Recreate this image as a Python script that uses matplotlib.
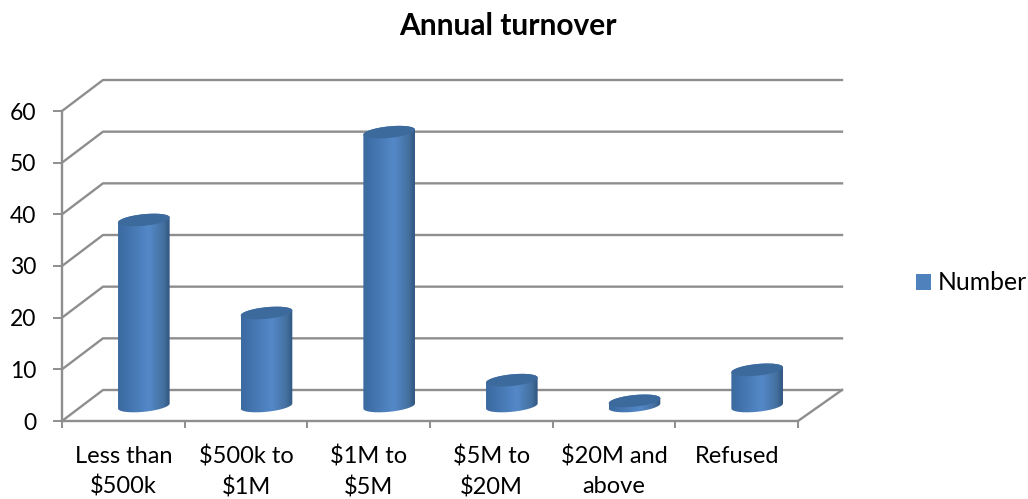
import numpy as np
import matplotlib
matplotlib.use("Agg")
import matplotlib.pyplot as plt
from matplotlib.colors import LinearSegmentedColormap
from matplotlib.patches import Patch, Polygon

categories = ["Less than\n$500k", "$500k to\n$1M", "$1M to\n$5M", "$5M to\n$20M", "$20M and\nabove", "Refused"]
values = [36, 18, 53, 5, 1, 7]
yticks = [0, 10, 20, 30, 40, 50, 60]

GRID = "#8e8e8e"
FONT = "Lato"
plt.rcParams["font.family"] = [FONT, "DejaVu Sans"]

W, H = 1028, 499
fig = plt.figure(figsize=(W / 100, H / 100), dpi=100)
ax = fig.add_axes([62 / W, (H - 421) / H, 736 / W, 310 / H])
ax.set_xlim(0, 6)
ax.set_ylim(0, 60)

# px to data units, the fake 3d depth is done by hand
sx = 6 / 736
sy = 60 / 310
dx = 41 * sx
dx_right = 44 * sx
dy = 31 * sy

# back wall and left wall lines
for v in yticks:
    ax.plot([0, dx, 6 + dx_right], [v, v + dy, v + dy], color=GRID, lw=1.7, clip_on=False, zorder=1)
ax.plot([6, 6 + dx_right], [0, dy], color=GRID, lw=1.7, clip_on=False, zorder=1)

# cylinders
cmap = LinearSegmentedColormap.from_list(
    "cyl", [(0, "#3a6a9f"), (0.2, "#4373ad"), (0.6, "#5488c8"), (0.88, "#44709f"), (1, "#2f5580")])
grad = np.linspace(0, 1, 256).reshape(1, -1)
a = 25.8 * sx
b = 5.8 * sy
k = 2.5 * sy
t_low = np.linspace(np.pi, 2 * np.pi, 60)
t_up = np.linspace(0, np.pi, 60)
t_all = np.linspace(0, 2 * np.pi, 120)
for i, v in enumerate(values):
    cx = i + 0.5 + dx / 2
    base = dy / 2 - 0.5 * sy
    top = base + v
    low = np.c_[cx + a * np.cos(t_low), base + b * np.sin(t_low) + k * np.cos(t_low)]
    up = np.c_[cx + a * np.cos(t_up), top + b * np.sin(t_up) + k * np.cos(t_up)]
    body = Polygon(np.r_[low, up], closed=True, transform=ax.transData, fc="none", ec="none")
    ax.add_patch(body)
    im = ax.imshow(grad, cmap=cmap, extent=[cx - a, cx + a, base - 2 * b, top + 2 * b],
                   aspect="auto", zorder=3)
    im.set_clip_path(body)
    lid = np.c_[cx + a * np.cos(t_all), top + b * np.sin(t_all) + k * np.cos(t_all)]
    ax.add_patch(Polygon(lid, closed=True, fc="#3d6a9c", ec="none", zorder=4))
ax.set_xlim(0, 6)
ax.set_ylim(0, 60)

# axes
for s in ["top", "right"]:
    ax.spines[s].set_visible(False)
for s in ["left", "bottom"]:
    ax.spines[s].set_color(GRID)
    ax.spines[s].set_linewidth(1.7)
ax.set_yticks(yticks)
ax.set_xticks(range(7))
ax.set_xticklabels([])
ax.set_xticks(np.arange(6) + 0.5, categories, minor=True)
ax.tick_params(axis="y", length=6.5, width=1.4, color=GRID, labelsize=16.5, pad=12, labelcolor="black")
ax.tick_params(axis="x", which="major", length=5, width=1.4, color=GRID)
ax.tick_params(axis="x", which="minor", length=0, labelsize=17, pad=18, labelcolor="black")
for lab in ax.get_xticklabels(minor=True):
    lab.set_linespacing(1.45)

fig.text(508 / W, 1 - 26 / H, "Annual turnover", ha="center", va="center", fontsize=21.5, fontweight="bold")

fig.legend(handles=[Patch(fc="#4f81bd", ec="none", label="Number")], loc="center left",
           bbox_to_anchor=(916 / W, 1 - 283 / H), frameon=False, fontsize=17.8,
           handlelength=0.61, handleheight=0.61, handletextpad=0.25, borderpad=0, borderaxespad=0)

fig.savefig("out.png", dpi=100)
